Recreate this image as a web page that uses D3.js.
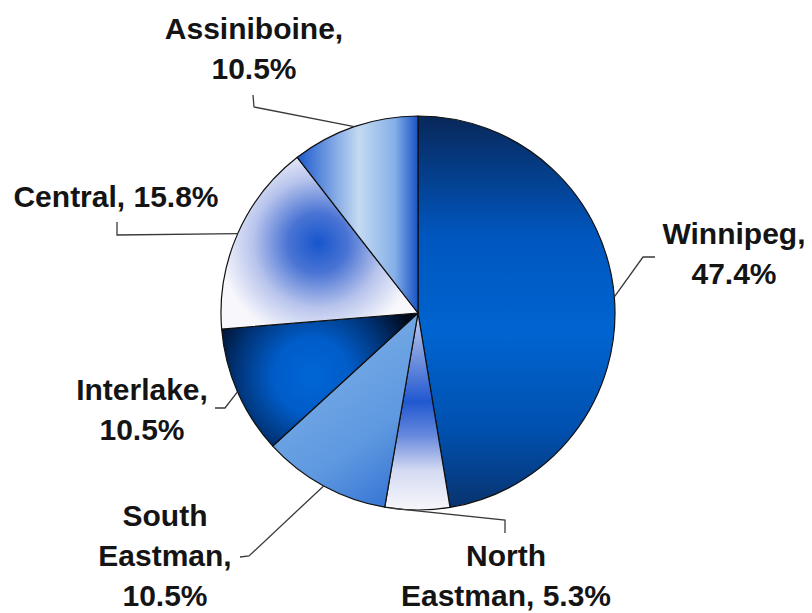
<!DOCTYPE html>
<html>
<head>
<meta charset="utf-8">
<script src="https://cdn.jsdelivr.net/npm/d3@7"></script>
<style>
    html, body { margin: 0; padding: 0; background: #fff; }
    svg { display: block; }
</style>
</head>
<body>
<div class="pie-container"></div>
<script>
const regions = ['Winnipeg', 'North Eastman', 'South Eastman', 'Interlake', 'Central', 'Assiniboine'];
const shares = [47.4, 5.3, 10.5, 10.5, 15.8, 10.5];

// words per label line, e.g. [1, 2] -> "North" / "Eastman, 5.3%"
const labelBreaks = [[1, 1], [1, 2], [1, 1, 1], [1, 1], [2], [1, 1]];

const width = 812;
const height = 613;
const cx = 418;
const cy = 313;
const radius = 197;
const lineHeight = 40;

// label anchor (centre of first baseline) and knee of the leader line
const labelLayout = [
    { x: 734, y: 244, knee: [[655, 257], [643, 257]] },
    { x: 506, y: 566, knee: [[505, 533], [505, 520]], anchorAngle: 188 },
    { x: 165, y: 526, knee: [[240, 557], [249, 556]] },
    { x: 142, y: 400, knee: [[215, 408], [225, 408]] },
    { x: 116, y: 207, knee: [[117, 222], [117, 235]] },
    { x: 254, y: 39, knee: [[253, 95], [254, 107]] }
];

const gradients = [
    { id: 'g0', type: 'linear', x1: 0, y1: 117, x2: 0, y2: 510,
        stops: [[0, '#08285a'], [0.3, '#0056be'], [0.55, '#0064d0'], [0.8, '#0050ae'], [1, '#08326c']] },
    { id: 'g1', type: 'linear', x1: 0, y1: 313, x2: 0, y2: 510,
        stops: [[0, '#c4cdee'], [0.25, '#6c8ddd'], [0.45, '#2058d0'], [0.62, '#6688dc'], [0.8, '#d4daf2'], [1, '#f7f7fb']] },
    { id: 'g2', type: 'linear', x1: 300, y1: 360, x2: 400, y2: 500,
        stops: [[0, '#78ace6'], [0.6, '#5e98e0'], [1, '#3674d4']] },
    { id: 'g3', type: 'radial', cx: 312, cy: 376, r: 110,
        stops: [[0, '#0066d6'], [0.35, '#005cc8'], [0.7, '#003274'], [1, '#000a1c']] },
    { id: 'g4', type: 'radial', cx: 318, cy: 243, r: 100,
        stops: [[0, '#1656cc'], [0.3, '#4a74d4'], [0.65, '#b8c4ec'], [1, '#f8f8fc']] },
    { id: 'g5', type: 'linear', x1: 300, y1: 0, x2: 418, y2: 0,
        stops: [[0, '#2460d0'], [0.5, '#c4daf2'], [0.8, '#86b0e8'], [1, '#1a52c4']] }
];

const data = regions.map((name, i) => ({ name, value: shares[i], index: i }));

const svg = d3.select('.pie-container')
    .append('svg')
    .attr('width', width)
    .attr('height', height);

const defs = svg.append('defs');

gradients.forEach(g => {
    const grad = defs.append(g.type === 'linear' ? 'linearGradient' : 'radialGradient')
        .attr('id', g.id)
        .attr('gradientUnits', 'userSpaceOnUse')
        // gradient coords are page coords, slices are drawn translated
        .attr('gradientTransform', `translate(${-cx},${-cy})`);
    if (g.type === 'linear') {
        grad.attr('x1', g.x1).attr('y1', g.y1).attr('x2', g.x2).attr('y2', g.y2);
    } else {
        grad.attr('cx', g.cx).attr('cy', g.cy).attr('r', g.r);
    }
    grad.selectAll('stop')
        .data(g.stops)
        .enter()
        .append('stop')
        .attr('offset', d => d[0])
        .attr('stop-color', d => d[1]);
});

const pie = d3.pie()
    .sort(null)
    .value(d => d.value);

const arc = d3.arc()
    .innerRadius(0)
    .outerRadius(radius);

const arcs = pie(data);

svg.append('g')
    .attr('class', 'slices')
    .selectAll('path')
    .data(arcs)
    .enter()
    .append('path')
    .attr('transform', `translate(${cx},${cy})`)
    .attr('d', arc)
    .attr('fill', d => `url(#g${d.data.index})`)
    .attr('stroke', '#101010')
    .attr('stroke-width', 1.2)
    .attr('stroke-linejoin', 'round');

const edgePoint = (d, i) => {
    const layout = labelLayout[i];
    const angle = layout.anchorAngle !== undefined
        ? layout.anchorAngle * Math.PI / 180
        : (d.startAngle + d.endAngle) / 2;
    return [cx + radius * Math.sin(angle), cy - radius * Math.cos(angle)];
};

svg.append('g')
    .attr('class', 'leaders')
    .selectAll('polyline')
    .data(arcs)
    .enter()
    .append('polyline')
    .attr('points', (d, i) => labelLayout[i].knee.concat([edgePoint(d, i)]).map(p => p.join(',')).join(' '))
    .attr('fill', 'none')
    .attr('stroke', '#3a3a3a')
    .attr('stroke-width', 1.3);

const labelLines = (d, i) => {
    const words = `${d.name}, ${d.value.toFixed(1)}%`.split(' ');
    let k = 0;
    return labelBreaks[i].map(n => {
        const line = words.slice(k, k + n).join(' ');
        k += n;
        return line;
    });
};

const label = svg.append('g')
    .attr('class', 'labels')
    .selectAll('text')
    .data(data)
    .enter()
    .append('text')
    .attr('x', (d, i) => labelLayout[i].x)
    .attr('y', (d, i) => labelLayout[i].y)
    .attr('text-anchor', 'middle')
    .attr('fill', '#141414')
    .style('font-family', 'Liberation Sans, Arial, sans-serif')
    .style('font-weight', 'bold')
    .style('font-size', '30px');

label.selectAll('tspan')
    .data((d, i) => labelLines(d, i).map(line => ({ line, x: labelLayout[i].x })))
    .enter()
    .append('tspan')
    .attr('x', d => d.x)
    .attr('dy', (d, j) => j === 0 ? 0 : lineHeight)
    .text(d => d.line);
</script>
</body>
</html>
